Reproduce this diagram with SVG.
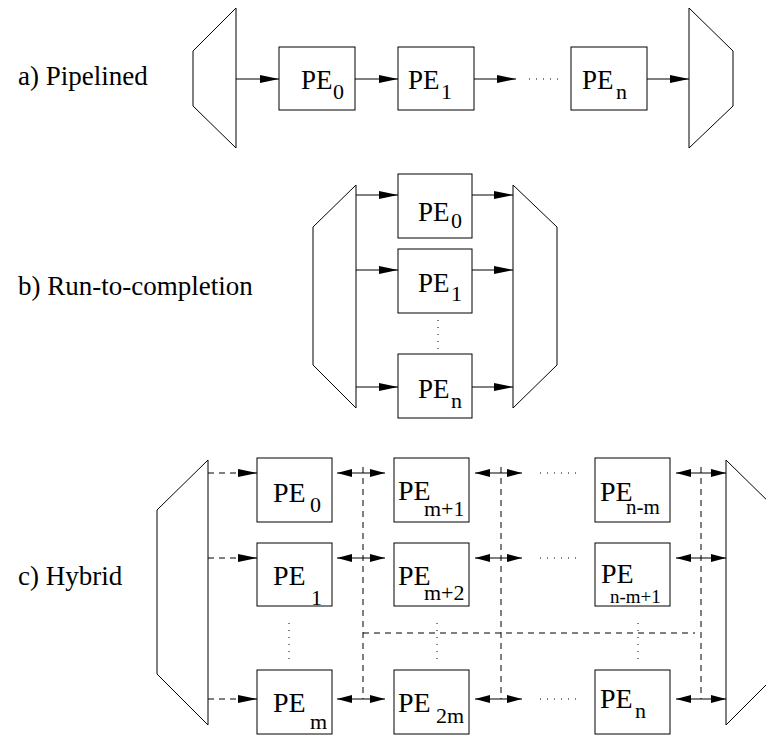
<svg xmlns="http://www.w3.org/2000/svg" width="766" height="736" viewBox="0 0 766 736">
<text x="18" y="85" font-family="Liberation Serif" font-size="27">a) Pipelined</text>
<text x="18" y="295" font-family="Liberation Serif" font-size="27">b) Run-to-completion</text>
<text x="18" y="585" font-family="Liberation Serif" font-size="27">c) Hybrid</text>

<g id="a_in"><polygon fill="none" stroke="#000" points="236,8 236,148 193,106 193,51"/></g>
<g id="a_out"><polygon fill="none" stroke="#000" points="689,8 733,51 733,106 689,148"/></g>
<g id="a_pe0"><rect fill="#fff" stroke="#000" x="279" y="47" width="76" height="63"/><text font-family="Liberation Serif" font-size="27" x="301" y="89">PE</text><text font-family="Liberation Serif" font-size="22" x="333" y="99">0</text></g>
<g id="a_pe1"><rect fill="#fff" stroke="#000" x="398" y="47" width="76" height="63"/><text font-family="Liberation Serif" font-size="27" x="408" y="89">PE</text><text font-family="Liberation Serif" font-size="22" x="441" y="99">1</text></g>
<g id="a_pen"><rect fill="#fff" stroke="#000" x="571" y="47" width="76" height="63"/><text font-family="Liberation Serif" font-size="27" x="582" y="89">PE</text><text font-family="Liberation Serif" font-size="22" x="616" y="99">n</text></g>

<g id="b_in"><polygon fill="none" stroke="#000" points="356,185 356,408 313,365 313,227"/></g>
<g id="b_out"><polygon fill="none" stroke="#000" points="513,185 557,227 557,365 513,408"/></g>
<g id="b_pe0"><rect fill="#fff" stroke="#000" x="398" y="174" width="74" height="64"/><text font-family="Liberation Serif" font-size="27" x="418" y="221">PE</text><text font-family="Liberation Serif" font-size="22" x="451" y="228">0</text></g>
<g id="b_pe1"><rect fill="#fff" stroke="#000" x="398" y="249" width="74" height="64"/><text font-family="Liberation Serif" font-size="27" x="418" y="292">PE</text><text font-family="Liberation Serif" font-size="22" x="451" y="301">1</text></g>
<g id="b_pen"><rect fill="#fff" stroke="#000" x="398" y="354" width="74" height="64"/><text font-family="Liberation Serif" font-size="27" x="418" y="398">PE</text><text font-family="Liberation Serif" font-size="22" x="451" y="408">n</text></g>

<g id="c_in"><polygon fill="none" stroke="#000" points="208,460 208,725 157,674 157,510"/></g>
<g id="c_out"><polygon fill="none" stroke="#000" points="726,460 777,510 777,674 726,725"/></g>
<g id="c_pe0"><rect fill="#fff" stroke="#000" x="257" y="458" width="75" height="64"/><text font-family="Liberation Serif" font-size="28" x="273" y="502">PE</text><text font-family="Liberation Serif" font-size="22" x="310" y="512">0</text></g>
<g id="c_pe1"><rect fill="#fff" stroke="#000" x="257" y="543" width="75" height="63"/><text font-family="Liberation Serif" font-size="28" x="273" y="585">PE</text><text font-family="Liberation Serif" font-size="22" x="311" y="605">1</text></g>
<g id="c_pem"><rect fill="#fff" stroke="#000" x="257" y="670" width="75" height="64"/><text font-family="Liberation Serif" font-size="28" x="273" y="712">PE</text><text font-family="Liberation Serif" font-size="22" x="310" y="729">m</text></g>
<g id="c_pem1"><rect fill="#fff" stroke="#000" x="394" y="458" width="75" height="64"/><text font-family="Liberation Serif" font-size="28" x="398" y="500">PE</text><text font-family="Liberation Serif" font-size="22" x="424" y="516">m+1</text></g>
<g id="c_pem2"><rect fill="#fff" stroke="#000" x="394" y="543" width="75" height="63"/><text font-family="Liberation Serif" font-size="28" x="398" y="585">PE</text><text font-family="Liberation Serif" font-size="22" x="424" y="600">m+2</text></g>
<g id="c_pe2m"><rect fill="#fff" stroke="#000" x="394" y="670" width="75" height="64"/><text font-family="Liberation Serif" font-size="28" x="398" y="712">PE</text><text font-family="Liberation Serif" font-size="22" x="436" y="723">2m</text></g>
<g id="c_penm"><rect fill="#fff" stroke="#000" x="595" y="458" width="75" height="64"/><text font-family="Liberation Serif" font-size="28" x="600" y="501">PE</text><text font-family="Liberation Serif" font-size="21" x="626" y="514">n-m</text></g>
<g id="c_penm1"><rect fill="#fff" stroke="#000" x="595" y="543" width="75" height="63"/><text font-family="Liberation Serif" font-size="28" x="601" y="583">PE</text><text font-family="Liberation Serif" font-size="19" x="610" y="603">n-m+1</text></g>
<g id="c_pen"><rect fill="#fff" stroke="#000" x="595" y="670" width="75" height="64"/><text font-family="Liberation Serif" font-size="28" x="600" y="708">PE</text><text font-family="Liberation Serif" font-size="22" x="635" y="718">n</text></g>

<g id="connectors" fill="none" stroke="#000" stroke-width="1">
  <line x1="236" y1="79" x2="279" y2="79" marker-end="url(#ah)"/>
  <line x1="355" y1="79" x2="398" y2="79" marker-end="url(#ah)"/>
  <line x1="474" y1="79" x2="516" y2="79" marker-end="url(#ah)"/>
  <line stroke-dasharray="1,6" x1="529" y1="79" x2="558" y2="79"/>
  <line x1="647" y1="79" x2="689" y2="79" marker-end="url(#ah)"/>
  <line x1="356" y1="195" x2="398" y2="195" marker-end="url(#ah)"/>
  <line x1="356" y1="270" x2="398" y2="270" marker-end="url(#ah)"/>
  <line x1="356" y1="387" x2="398" y2="387" marker-end="url(#ah)"/>
  <line x1="472" y1="195" x2="513" y2="195" marker-end="url(#ah)"/>
  <line x1="472" y1="270" x2="513" y2="270" marker-end="url(#ah)"/>
  <line x1="472" y1="387" x2="513" y2="387" marker-end="url(#ah)"/>
  <line stroke-dasharray="1,6" x1="438" y1="320" x2="438" y2="349"/>
  <g stroke-dasharray="6,5">
    <line x1="208" y1="473" x2="257" y2="473" marker-end="url(#ah)"/>
    <line x1="208" y1="558" x2="257" y2="558" marker-end="url(#ah)"/>
    <line x1="208" y1="699" x2="257" y2="699" marker-end="url(#ah)"/>
    <line x1="363" y1="467" x2="363" y2="699"/>
    <line x1="501" y1="467" x2="501" y2="699"/>
    <line x1="701" y1="467" x2="701" y2="699"/>
    <line x1="363" y1="633" x2="695" y2="633"/>
  </g>
  <line x1="337" y1="473" x2="385" y2="473" marker-start="url(#ah2)" marker-end="url(#ah2)"/>
  <line x1="337" y1="558" x2="385" y2="558" marker-start="url(#ah2)" marker-end="url(#ah2)"/>
  <line x1="337" y1="699" x2="385" y2="699" marker-start="url(#ah2)" marker-end="url(#ah2)"/>
  <line x1="475" y1="473" x2="522" y2="473" marker-start="url(#ah2)" marker-end="url(#ah2)"/>
  <line x1="475" y1="558" x2="522" y2="558" marker-start="url(#ah2)" marker-end="url(#ah2)"/>
  <line x1="475" y1="699" x2="522" y2="699" marker-start="url(#ah2)" marker-end="url(#ah2)"/>
  <line x1="676" y1="473" x2="726" y2="473" marker-start="url(#ah2)" marker-end="url(#ah2)"/>
  <line x1="676" y1="558" x2="726" y2="558" marker-start="url(#ah2)" marker-end="url(#ah2)"/>
  <line x1="676" y1="699" x2="726" y2="699" marker-start="url(#ah2)" marker-end="url(#ah2)"/>
  <g stroke-dasharray="1,6">
    <line x1="540" y1="473" x2="576" y2="473"/>
    <line x1="540" y1="558" x2="576" y2="558"/>
    <line x1="540" y1="699" x2="576" y2="699"/>
    <line x1="289" y1="623" x2="289" y2="661"/>
    <line x1="437" y1="623" x2="437" y2="661"/>
    <line x1="638" y1="623" x2="638" y2="661"/>
  </g>
</g>

<defs>
  <marker id="ah" viewBox="0 0 19 8" markerWidth="19" markerHeight="8" refX="19" refY="4" orient="auto-start-reverse" markerUnits="userSpaceOnUse">
    <path d="M0,0 L19,4 L0,8 z" fill="#000"/>
  </marker>
  <marker id="ah2" viewBox="0 0 15 8" markerWidth="15" markerHeight="8" refX="15" refY="4" orient="auto-start-reverse" markerUnits="userSpaceOnUse">
    <path d="M0,0 L15,4 L0,8 z" fill="#000"/>
  </marker>
</defs>
</svg>
